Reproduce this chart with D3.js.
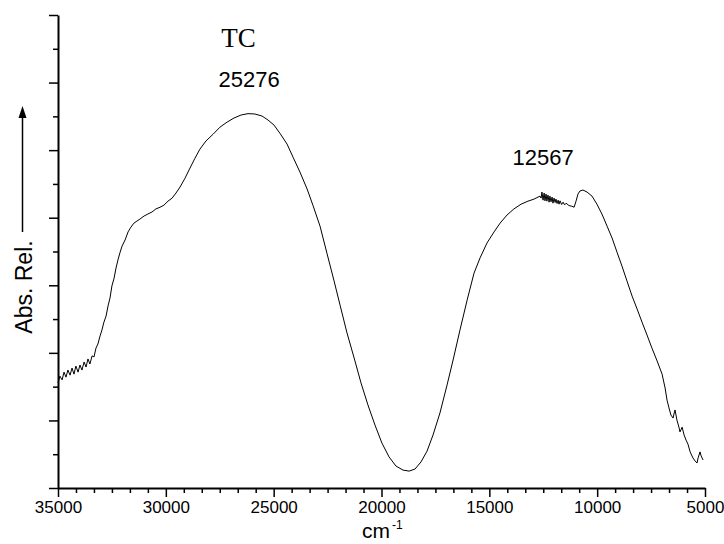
<!DOCTYPE html>
<html>
<head>
<meta charset="utf-8">
<script src="https://cdn.jsdelivr.net/npm/d3@7"></script>
<style>
  body { margin: 0; background: #fff; }
  svg { display: block; }
  .axis path, .axis line { stroke: #000; }
  .axis text { font-family: "Liberation Sans", Arial, sans-serif; font-size: 17px; fill: #000; }
</style>
</head>
<body>
<svg id="chart" width="724" height="544"></svg>
<script>
// wavenumber (cm-1)
const wavenumber = [35000,34910,34810,34720,34630,34540,34440,34350,34260,34170,34070,33980,33890,33790,33700,33610,33520,33420,33330,33240,33150,33050,32960,32870,32770,32680,32590,32500,32400,32310,32220,32120,32030,31890,31750,31620,31480,31340,31200,31010,30830,30640,30460,30270,30090,29900,29710,29530,29340,29110,28880,28650,28420,28140,27810,27490,27160,26840,26510,26190,25870,25540,25260,24980,24710,24380,24100,23780,23450,23180,22850,22530,22200,21920,21600,21270,20950,20630,20300,19980,19650,19330,19000,18720,18450,18170,17890,17610,17290,16960,16680,16360,16030,15710,15430,15110,14780,14500,14180,13860,13530,13210,12930,12650,12600,12560,12510,12460,12420,12370,12330,12280,12230,12190,12140,12090,12050,12000,11950,11910,11860,11810,11770,11720,11650,11580,11510,11440,11310,11170,11070,10980,10890,10800,10660,10470,10240,10010,9780,9540,9310,9080,8850,8620,8380,8150,7920,7690,7460,7220,6990,6850,6760,6670,6580,6480,6440,6390,6300,6200,6160,6060,5970,5880,5790,5690,5560,5460,5370,5320,5230,5180,5090];

// relative absorbance (arbitrary units)
const absorbance = [.311,.331,.320,.343,.328,.349,.334,.355,.337,.361,.343,.364,.349,.373,.358,.382,.367,.391,.388,.414,.426,.450,.468,.491,.509,.539,.562,.598,.621,.651,.675,.698,.716,.734,.758,.772,.784,.790,.796,.805,.811,.817,.826,.831,.837,.849,.858,.873,.891,.917,.947,.976,1.003,1.027,1.047,1.068,1.083,1.095,1.104,1.108,1.107,1.101,1.089,1.074,1.050,1.018,.979,.935,.885,.837,.775,.695,.613,.541,.459,.385,.311,.246,.186,.133,.092,.065,.053,.050,.056,.077,.109,.157,.222,.305,.379,.468,.556,.636,.681,.725,.758,.784,.808,.826,.840,.849,.855,.864,.858,.876,.852,.873,.850,.870,.849,.867,.846,.864,.847,.861,.843,.858,.845,.855,.842,.852,.840,.850,.839,.846,.838,.843,.836,.834,.831,.849,.870,.879,.882,.876,.864,.840,.811,.775,.740,.698,.657,.613,.568,.530,.491,.453,.414,.376,.337,.296,.260,.237,.216,.207,.219,.231,.201,.178,.166,.180,.157,.142,.130,.107,.089,.080,.074,.089,.107,.095,.083,.089];

const xMajorTicks = [35000, 30000, 25000, 20000, 15000, 10000, 5000];

// peak annotations: text, wavenumber, absorbance of the baseline
const labelText = ["TC", "25276", "12567"];
const labelX = [26630, 26140, 12510];
const labelY = [1.305, 1.187, 0.956];

const margin = { top: 15, right: 19, bottom: 56, left: 58 },
  width = 724 - margin.left - margin.right,
  height = 544 - margin.top - margin.bottom;

const data = wavenumber.map((w, i) => ({ w: w, a: absorbance[i] }));

var x = d3.scaleLinear().domain([35000, 5000]).range([0, width]);
var y = d3.scaleLinear().domain([0, 1.4]).range([height, 0]);

var svg = d3.select("#chart")
  .append("g")
  .attr("transform", "translate(" + margin.left + "," + margin.top + ")");

// y axis: unlabelled, alternating long / short ticks
var yAll = d3.range(0, 15).map(d => d / 10);
svg.append("g")
  .attr("class", "axis")
  .call(d3.axisLeft(y).tickValues(yAll.filter((d, i) => i % 2 === 1)).tickSize(5).tickFormat(""))
  .call(g => g.select(".domain").remove())
  .selectAll("line").attr("stroke-width", 1.5);
svg.append("g")
  .attr("class", "axis")
  .call(d3.axisLeft(y).tickValues(yAll.filter((d, i) => i % 2 === 0)).tickSize(9).tickSizeOuter(0).tickFormat(""))
  .call(g => g.select(".domain").attr("stroke-width", 2))
  .selectAll("line").attr("stroke-width", 1.5);

// x axis: five minor ticks between labels
var xMinor = d3.range(0, 37).map(i => 35000 - i * 5000 / 6)
  .filter((d, i) => i % 6 !== 0);
svg.append("g")
  .attr("class", "axis")
  .attr("transform", "translate(0," + height + ")")
  .call(d3.axisBottom(x).tickValues(xMinor).tickSize(5).tickFormat(""))
  .call(g => g.select(".domain").remove())
  .selectAll("line").attr("stroke-width", 1.5);
svg.append("g")
  .attr("class", "axis")
  .attr("transform", "translate(0," + height + ")")
  .call(d3.axisBottom(x).tickValues(xMajorTicks).tickSize(9).tickSizeOuter(0).tickPadding(4).tickFormat(d3.format("d")))
  .call(g => g.select(".domain").attr("stroke-width", 2))
  .call(g => g.selectAll("line").attr("stroke-width", 1.5));

// spectrum
var line = d3.line().x(d => x(d.w)).y(d => y(d.a));
svg.append("path")
  .datum(data)
  .attr("fill", "none")
  .attr("stroke", "#000")
  .attr("stroke-width", 1)
  .attr("stroke-linejoin", "round")
  .attr("d", line);

// annotations
svg.selectAll(".peak")
  .data(labelText)
  .enter()
  .append("text")
  .attr("class", "peak")
  .attr("x", (d, i) => x(labelX[i]))
  .attr("y", (d, i) => y(labelY[i]))
  .attr("text-anchor", "middle")
  .style("font-family", (d, i) => i === 0 ? "'Liberation Serif', 'Times New Roman', serif" : "'Liberation Sans', Arial, sans-serif")
  .style("font-size", (d, i) => i === 0 ? "27px" : "22px")
  .text(d => d);

// x title with superscript
var xt = svg.append("text")
  .attr("x", 304)
  .attr("y", height + 50)
  .style("font-family", "'Liberation Sans', Arial, sans-serif")
  .style("font-size", "21px");
xt.append("tspan").text("cm");
xt.append("tspan").attr("dy", -9).attr("dx", 2).style("font-size", "12px").text("-1");

// y title with arrow
var root = d3.select("#chart");
root.append("text")
  .attr("transform", "translate(32,287) rotate(-90)")
  .attr("text-anchor", "middle")
  .style("font-family", "'Liberation Sans', Arial, sans-serif")
  .style("font-size", "23px")
  .text("Abs. Rel.");
root.append("line")
  .attr("x1", 22.5).attr("x2", 22.5)
  .attr("y1", 232).attr("y2", 116)
  .attr("stroke", "#000")
  .attr("stroke-width", 1.5);
root.append("path")
  .attr("d", "M22.5,106 L18.5,118 L26.5,118 Z")
  .attr("fill", "#000");
</script>
</body>
</html>
